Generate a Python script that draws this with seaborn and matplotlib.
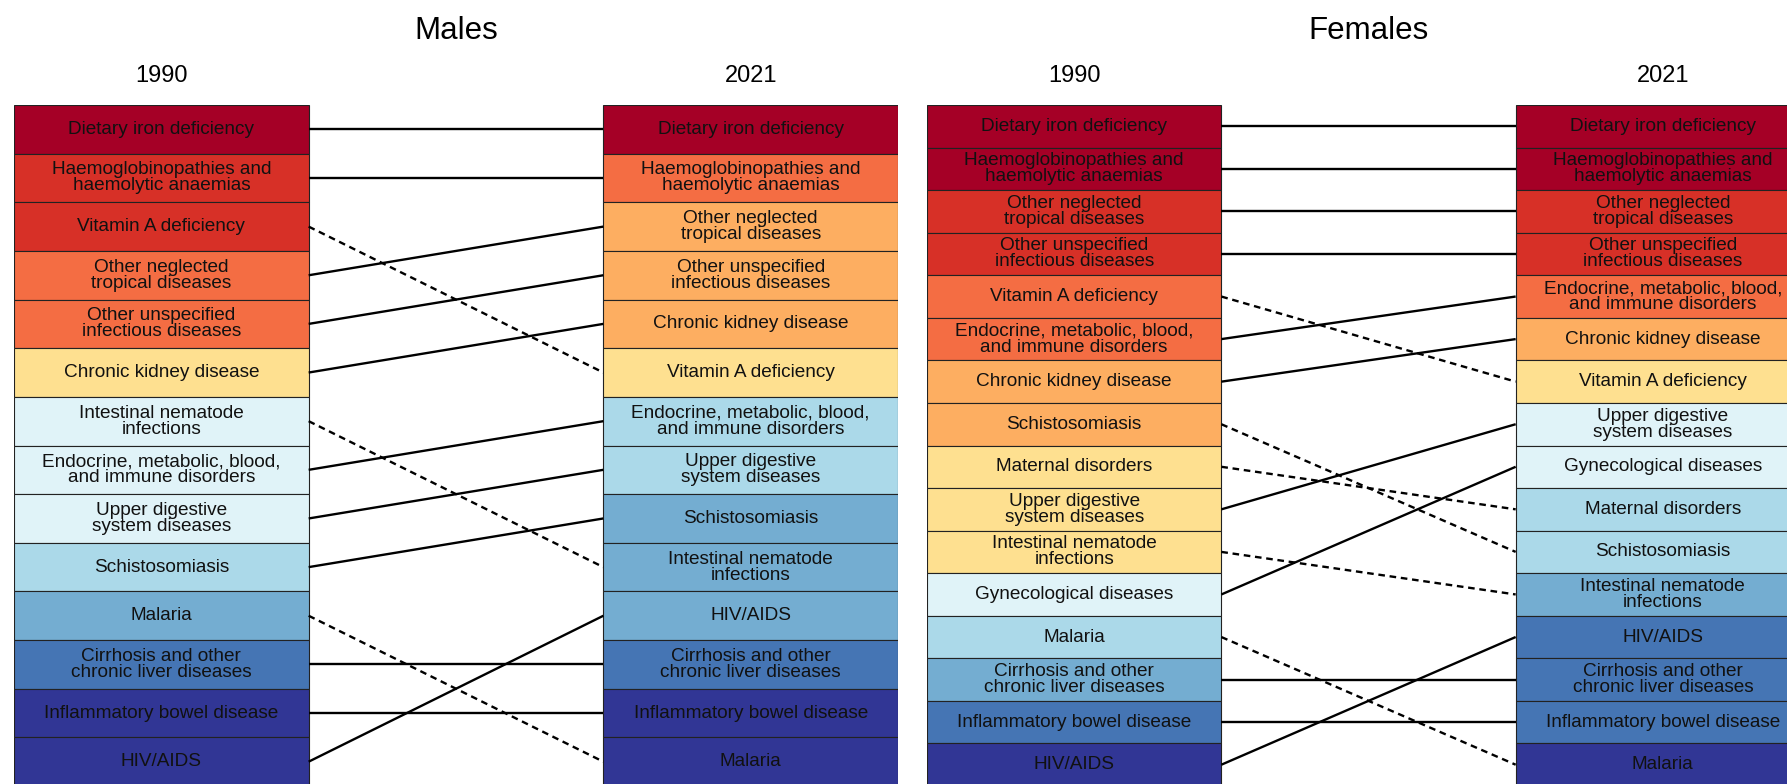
import numpy as np
import pandas as pd
import seaborn as sns
import matplotlib.pyplot as plt
from matplotlib.transforms import blended_transform_factory

# Ranked causes (rank 1 at top) and colour class per box
males_1990 = [
    'Dietary iron deficiency',
    'Haemoglobinopathies and\nhaemolytic anaemias',
    'Vitamin A deficiency',
    'Other neglected\ntropical diseases',
    'Other unspecified\ninfectious diseases',
    'Chronic kidney disease',
    'Intestinal nematode\ninfections',
    'Endocrine, metabolic, blood,\nand immune disorders',
    'Upper digestive\nsystem diseases',
    'Schistosomiasis',
    'Malaria',
    'Cirrhosis and other\nchronic liver diseases',
    'Inflammatory bowel disease',
    'HIV/AIDS',
]
males_1990_bin = [0, 1, 1, 2, 2, 4, 5, 5, 5, 6, 7, 8, 9, 9]

males_2021 = [
    'Dietary iron deficiency',
    'Haemoglobinopathies and\nhaemolytic anaemias',
    'Other neglected\ntropical diseases',
    'Other unspecified\ninfectious diseases',
    'Chronic kidney disease',
    'Vitamin A deficiency',
    'Endocrine, metabolic, blood,\nand immune disorders',
    'Upper digestive\nsystem diseases',
    'Schistosomiasis',
    'Intestinal nematode\ninfections',
    'HIV/AIDS',
    'Cirrhosis and other\nchronic liver diseases',
    'Inflammatory bowel disease',
    'Malaria',
]
males_2021_bin = [0, 2, 3, 3, 3, 4, 6, 6, 7, 7, 7, 8, 9, 9]

females_1990 = [
    'Dietary iron deficiency',
    'Haemoglobinopathies and\nhaemolytic anaemias',
    'Other neglected\ntropical diseases',
    'Other unspecified\ninfectious diseases',
    'Vitamin A deficiency',
    'Endocrine, metabolic, blood,\nand immune disorders',
    'Chronic kidney disease',
    'Schistosomiasis',
    'Maternal disorders',
    'Upper digestive\nsystem diseases',
    'Intestinal nematode\ninfections',
    'Gynecological diseases',
    'Malaria',
    'Cirrhosis and other\nchronic liver diseases',
    'Inflammatory bowel disease',
    'HIV/AIDS',
]
females_1990_bin = [0, 0, 1, 1, 2, 2, 3, 3, 4, 4, 4, 5, 6, 7, 8, 9]

females_2021 = [
    'Dietary iron deficiency',
    'Haemoglobinopathies and\nhaemolytic anaemias',
    'Other neglected\ntropical diseases',
    'Other unspecified\ninfectious diseases',
    'Endocrine, metabolic, blood,\nand immune disorders',
    'Chronic kidney disease',
    'Vitamin A deficiency',
    'Upper digestive\nsystem diseases',
    'Gynecological diseases',
    'Maternal disorders',
    'Schistosomiasis',
    'Intestinal nematode\ninfections',
    'HIV/AIDS',
    'Cirrhosis and other\nchronic liver diseases',
    'Inflammatory bowel disease',
    'Malaria',
]
females_2021_bin = [0, 0, 1, 1, 2, 3, 4, 5, 5, 6, 6, 7, 8, 8, 8, 9]

years = ['1990', '2021']

# 10-class RdYlBu, red = highest
bin_colors = ['#a50026', '#d73027', '#f46d43', '#fdae61', '#fee090',
              '#e0f3f8', '#abd9e9', '#74add1', '#4575b4', '#313695']

sns.set_theme(style='white')
plt.rcParams['font.family'] = ['Liberation Sans', 'DejaVu Sans']

W, H = 1787, 784
fig = plt.figure(figsize=(W / 100, H / 100), dpi=100)
ax_m = fig.add_axes([14 / W, -2 / H, 884 / W, 681 / H])
ax_f = fig.add_axes([927 / W, -2 / H, 883 / W, 681 / H])


def draw_panel(ax, title, causes_a, bins_a, causes_b, bins_b):
    n = len(causes_a)
    for causes, bins, left in [(causes_a, bins_a, 0), (causes_b, bins_b, 2)]:
        df = pd.DataFrame({'cause': causes, 'rank': np.arange(1, n + 1), 'w': 1.0})
        pal = {c: bin_colors[b] for c, b in zip(causes, bins)}
        sns.barplot(data=df, x='w', y='rank', hue='cause', palette=pal,
                    orient='h', native_scale=True, width=1, dodge=False,
                    saturation=1, errorbar=None, legend=False, left=left,
                    edgecolor='#222222', linewidth=0.8, ax=ax)
        for c, r in zip(df['cause'], df['rank']):
            ax.text(left + 0.5, r, c, ha='center', va='center',
                    fontsize=13.7, linespacing=0.92, color='#111111')

    # connectors: solid = same or higher rank, dashed = dropped
    for i, c in enumerate(causes_a):
        r0 = i + 1
        r1 = causes_b.index(c) + 1
        ls = '-' if r1 <= r0 else (0, (2.8, 2.0))
        ax.plot([1, 2], [r0, r1], color='black', lw=1.7, linestyle=ls,
                solid_capstyle='butt', dash_capstyle='butt')

    ax.set_xlim(0, 3)
    ax.set_ylim(n + 0.5, 0.5)
    ax.axis('off')

    tr = blended_transform_factory(ax.transData, fig.transFigure)
    ax.text(1.5, 1 - 31 / H, title, transform=tr, ha='center', va='center',
            fontsize=22.5, color='black')
    for x, yr in zip([0.5, 2.5], years):
        ax.text(x, 1 - 76 / H, yr, transform=tr, ha='center', va='center',
                fontsize=17, color='black')


draw_panel(ax_m, 'Males', males_1990, males_1990_bin, males_2021, males_2021_bin)
draw_panel(ax_f, 'Females', females_1990, females_1990_bin, females_2021, females_2021_bin)

fig.savefig('out.png', dpi=100)
